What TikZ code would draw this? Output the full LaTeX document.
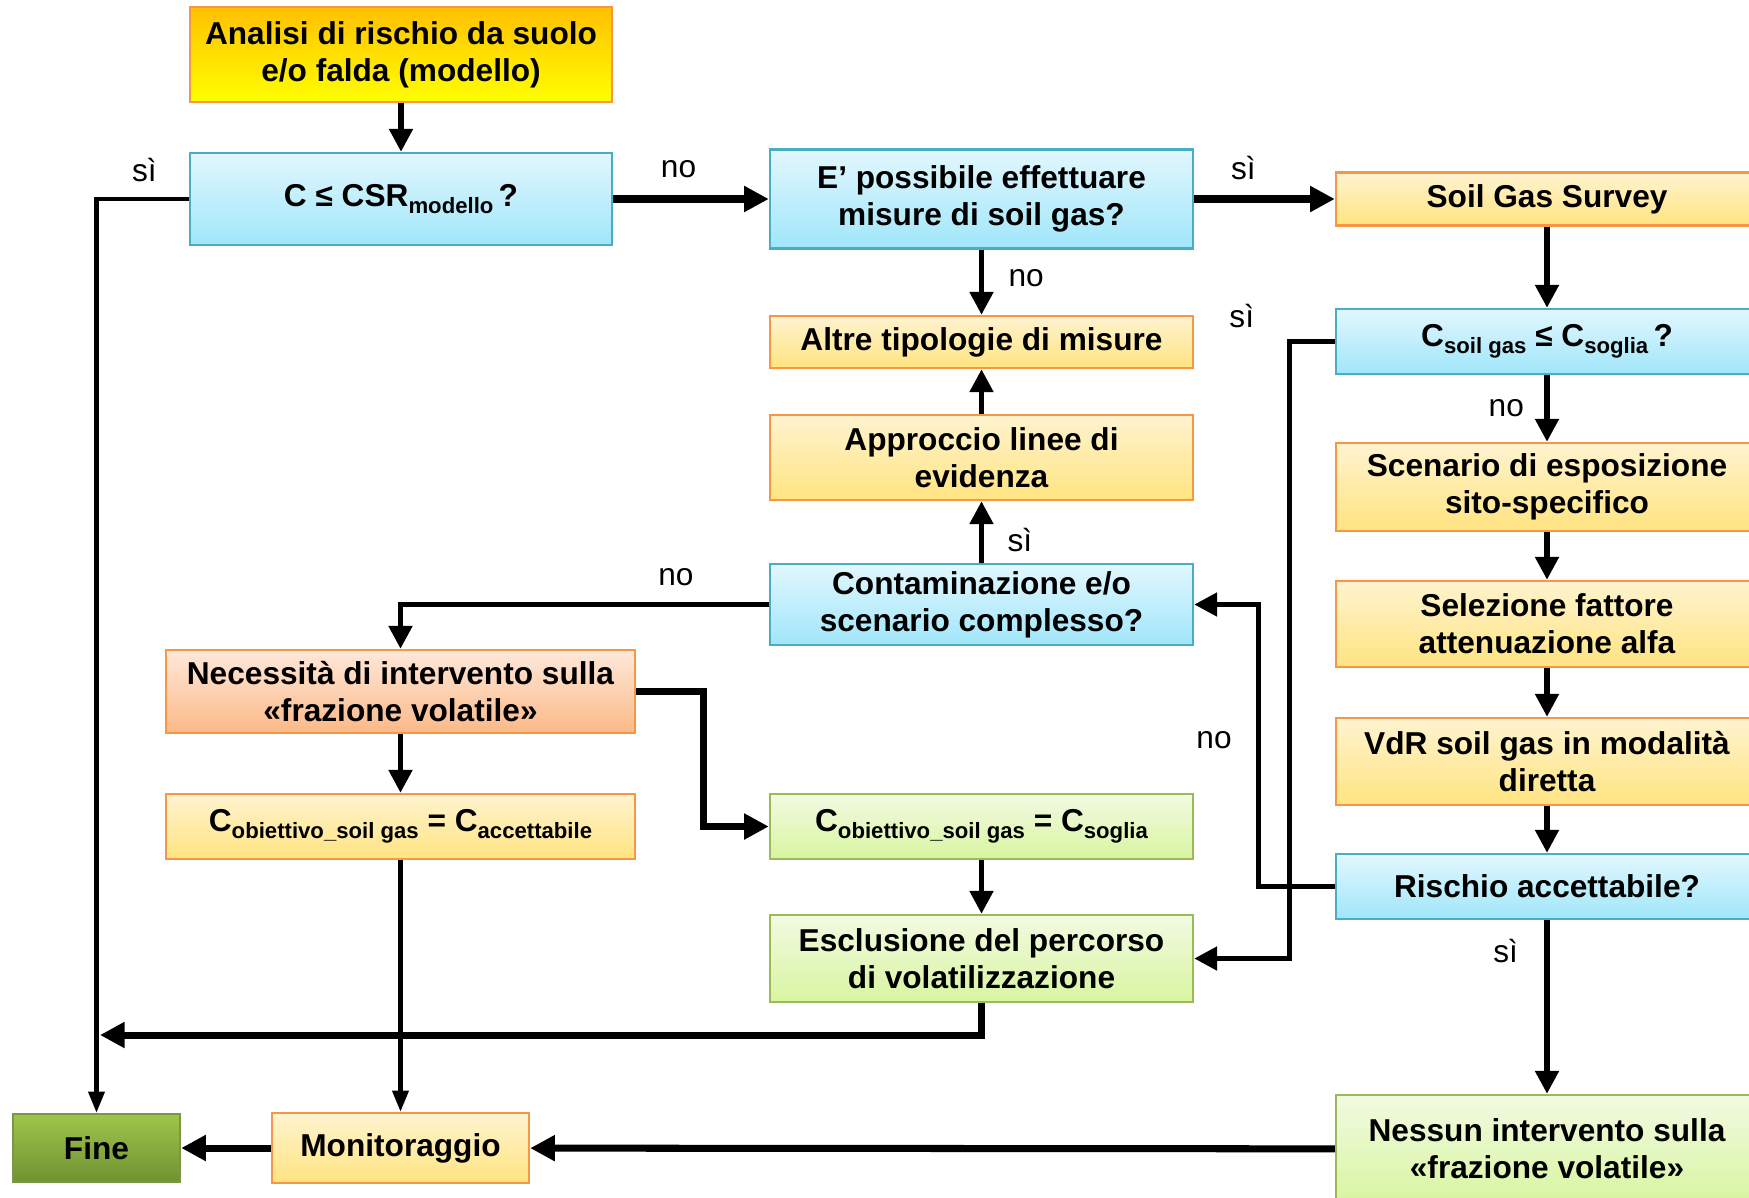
\documentclass[tikz,border=0pt]{standalone}
\usepackage{fontspec}
\setmainfont{Liberation Sans}
\usepackage{tikz}
\usetikzlibrary{positioning, arrows.meta, calc}
\definecolor{blueline}{RGB}{75,172,198}
\definecolor{bluetop}{RGB}{226,247,254}
\definecolor{bluebot}{RGB}{160,230,250}
\definecolor{orangeline}{RGB}{247,150,70}
\definecolor{creamtop}{RGB}{255,243,208}
\definecolor{creambot}{RGB}{255,228,128}
\definecolor{peachtop}{RGB}{255,232,218}
\definecolor{peachbot}{RGB}{251,185,135}
\definecolor{greenline}{RGB}{155,187,89}
\definecolor{limetop}{RGB}{242,250,226}
\definecolor{limebot}{RGB}{216,245,160}
\definecolor{finetop}{RGB}{158,197,74}
\definecolor{finebot}{RGB}{112,146,50}
\definecolor{goldtop}{RGB}{255,192,0}
\definecolor{goldbot}{RGB}{255,255,0}
\newcommand{\lowtext}[1]{\raisebox{-0.4ex}{\fontsize{6.3}{7}\selectfont #1}}
\tikzset{
  box/.style={
    rectangle, draw, line width=0.7pt, align=center, inner sep=2pt,
    minimum width=4.22cm, font=\fontsize{9}{10.6}\selectfont\bfseries
  },
  start/.style={box, draw=orangeline, top color=goldtop, bottom color=goldbot},
  decision/.style={box, draw=blueline, top color=bluetop, bottom color=bluebot},
  process/.style={box, draw=orangeline, top color=creamtop, bottom color=creambot},
  need/.style={box, draw=orangeline, top color=peachtop, bottom color=peachbot},
  outcome/.style={box, draw=greenline, top color=limetop, bottom color=limebot},
  endbox/.style={box, draw=greenline!80!black, top color=finetop, bottom color=finebot},
  flow/.style={draw, line width=1.5pt, -{Triangle[length=6.5pt, width=6.5pt]}},
  bigflow/.style={flow, line width=2pt, -{Triangle[length=7pt, width=7pt]}},
  thinflow/.style={flow, line width=1.2pt, -{Triangle[length=6pt, width=4.5pt]}},
  answer/.style={font=\fontsize{9}{10}\selectfont, inner sep=1pt},
}
\begin{document}
\begin{tikzpicture}
  \useasboundingbox (0,0) rectangle (17.49,-11.97);
  \clip (0,0) rectangle (17.49,-11.97);

  \node[start, minimum height=0.95cm] (risk) at (4.01,-0.545) {Analisi di rischio da suolo\\e/o falda (modello)};
  \node[decision, minimum height=0.92cm] (csr) at (4.01,-1.99) {C ≤ CSR\lowtext{modello}\,?};
  \node[decision, minimum width=4.23cm, minimum height=0.99cm] (possible) at (9.815,-1.99) {E’ possibile effettuare\\misure di soil gas?};
  \node[process, minimum height=0.53cm] (survey) at (15.47,-1.99) {Soil Gas Survey};
  \node[process, minimum width=4.23cm, minimum height=0.52cm] (other) at (9.815,-3.42) {Altre tipologie di misure};
  \node[process, minimum width=4.23cm, minimum height=0.85cm] (evidence) at (9.815,-4.575) {Approccio linee di\\evidenza};
  \node[decision, minimum width=4.23cm, minimum height=0.81cm] (complex) at (9.815,-6.045) {Contaminazione e/o\\scenario complesso?};
  \node[decision, minimum height=0.65cm] (threshold) at (15.47,-3.415) {C\lowtext{soil gas} ≤ C\lowtext{soglia}\,?};
  \node[process, minimum height=0.88cm] (scenario) at (15.47,-4.87) {Scenario di esposizione\\sito-specifico};
  \node[process, minimum height=0.86cm] (alpha) at (15.47,-6.24) {Selezione fattore\\attenuazione alfa};
  \node[process, minimum height=0.87cm] (vdr) at (15.47,-7.615) {VdR soil gas in modalità\\diretta};
  \node[decision, minimum height=0.65cm] (acceptable) at (15.47,-8.865) {Rischio accettabile?};
  \node[outcome, minimum height=1.08cm] (none) at (15.47,-11.49) {Nessun intervento sulla\\«frazione volatile»};
  \node[need, minimum width=4.69cm, minimum height=0.83cm] (need) at (4.005,-6.915) {Necessità di intervento sulla\\«frazione volatile»};
  \node[process, minimum width=4.69cm, minimum height=0.65cm] (target) at (4.005,-8.265) {C\lowtext{obiettivo\_soil gas} = C\lowtext{accettabile}};
  \node[outcome, minimum width=4.23cm, minimum height=0.65cm] (targetsg) at (9.815,-8.265) {C\lowtext{obiettivo\_soil gas} = C\lowtext{soglia}};
  \node[outcome, minimum width=4.23cm, minimum height=0.87cm] (exclude) at (9.815,-9.585) {Esclusione del percorso\\di volatilizzazione};
  \node[endbox, minimum width=1.67cm, minimum height=0.68cm] (fine) at (0.965,-11.48) {Fine};
  \node[process, minimum width=2.57cm, minimum height=0.70cm] (monitor) at (4.005,-11.48) {Monitoraggio};
  \coordinate (merge) at (1.00,-10.35);

  \draw[flow] (risk) -- (csr);
  \draw[thinflow] (csr.west) -| node[answer, pos=0.24, above=0.12cm] {sì} (fine.north);
  \draw[bigflow] (csr) -- node[answer, pos=0.42, above=0.14cm] {no} (possible);
  \draw[bigflow] (possible) -- node[answer, pos=0.35, above=0.12cm] {sì} (survey);
  \draw[flow] (possible) -- node[answer, pos=0.44, right=0.21cm] {no} (other);
  \draw[flow] (evidence) -- (other);
  \draw[flow] (complex) -- node[answer, pos=0.375, right=0.2cm] {sì} (evidence);
  \draw[flow] (complex.west) -| node[answer, pos=0.126, above=0.125cm] {no} (need.north);
  \draw[flow] (need) -- (target);
  \draw[bigflow] (need.east) -- ++(0.67,0) |- (targetsg.west);
  \draw[thinflow] (target) -- (monitor);
  \draw[flow] (targetsg) -- (exclude);
  \draw[bigflow] (exclude.south) |- (merge);
  \draw[flow] (survey) -- (threshold);
  \draw[flow] (threshold) -- node[answer, pos=0.49, left=0.17cm] {no} (scenario);
  \draw[flow] (threshold.west) -- ++(-0.45,0) node[answer, xshift=-0.48cm, yshift=0.26cm] {sì} |- (exclude.east);
  \draw[flow] (scenario) -- (alpha);
  \draw[flow] (alpha) -- (vdr);
  \draw[flow] (vdr) -- (acceptable);
  \draw[flow] (acceptable.west) -- ++(-0.76,0) |- node[answer, pos=0.26, left=0.21cm] {no} (complex.east);
  \draw[flow] (acceptable) -- node[answer, pos=0.18, left=0.23cm] {sì} (none);
  \draw[bigflow] (none) -- (monitor);
  \draw[bigflow] (monitor) -- (fine);
\end{tikzpicture}
\end{document}
